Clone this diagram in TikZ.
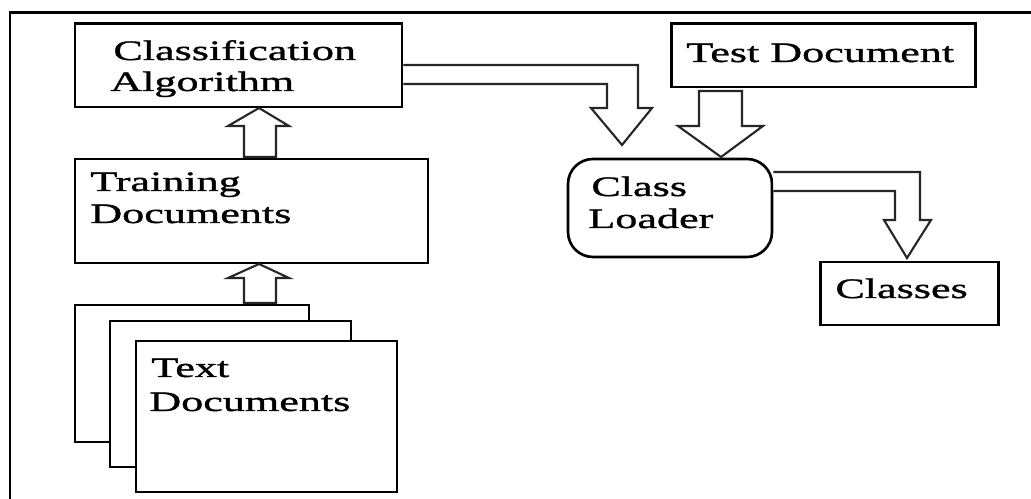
\documentclass[tikz,border=0pt]{standalone}
\usepackage{fontspec}
\setmainfont{Liberation Serif}[FakeStretch=1.57,FakeBold=1.2]
\usetikzlibrary{fit}
\begin{document}
\begin{tikzpicture}[x=0.02cm,y=-0.02cm,
  box/.style={draw, line width=1.7pt, inner sep=0pt, fill=white},
  roundbox/.style={draw, line width=1.5pt, inner sep=0pt, fill=white, rounded corners=0.5cm},
  lbl/.style={anchor=base west, inner sep=0pt, font=\fontsize{16pt}{19pt}\selectfont},
  blockarrow/.style={draw=black!85, line width=1.2pt, fill=white, line join=miter}]
\useasboundingbox (0,0) rectangle (1031,499);

% outer frame (only its left and top edges fall inside the page)
\draw[line width=1.7pt] (10,499) -- (10,13) -- (1031,13);

% boxes
\node[box, fit={(75,24) (402,107)}] (algo) {};
\node[box, fit={(75,159) (428,263)}] (train) {};
\node[box, fit={(75,305) (309,442)}] (docA) {};
\node[box, fit={(110,321) (351,467)}] (docB) {};
\node[box, fit={(136,341) (397,492)}] (docC) {};
\node[box, fit={(671,24) (975,87)}] (test) {};
\node[roundbox, fit={(568,159) (772,257)}] (loader) {};
\node[box, fit={(820,262) (998,325)}] (classes) {};

% labels
\node[lbl] (t1) at (113,60) {Classification};
\node[lbl] (t2) at (110,91) {Algorithm};
\node[lbl] (t3) at (90,191) {Training};
\node[lbl] (t4) at (90,223) {Documents};
\node[lbl] (t5) at (151,377) {Text};
\node[lbl] (t6) at (149,411) {Documents};
\node[lbl] (t7) at (686,62) {Test Document};
\node[lbl] (t8) at (591,196) {Class};
\node[lbl] (t9) at (588,228) {Loader};
\node[lbl] (t10) at (835,298) {Classes};

% block arrows
% training documents -> classification algorithm
\draw[blockarrow] (244,157) -- (244,126) -- (228,126) -- (259,108) -- (289,126)
  -- (276,126) -- (276,157) -- cycle;
% text documents -> training documents
\draw[blockarrow] (244,303) -- (244,278) -- (228,278) -- (259,264) -- (289,278)
  -- (276,278) -- (276,303) -- cycle;
% classification algorithm -> class loader
\draw[blockarrow] (algo.east |- 0,65) -- (638,65) -- (638,108) -- (652,108)
  -- (622,145) -- (591,108) -- (607,108) -- (607,84) -- (algo.east |- 0,84);
% test document -> class loader
\draw[blockarrow] (699,91) -- (699,126) -- (678,126) -- (721,157) -- (763,126)
  -- (742,126) -- (742,91) -- cycle;
% class loader -> classes
\draw[blockarrow] (loader.east |- 0,172) -- (920,172) -- (920,220) -- (931,220)
  -- (907,258) -- (884,220) -- (895,220) -- (895,191) -- (loader.east |- 0,191);
\end{tikzpicture}
\end{document}
